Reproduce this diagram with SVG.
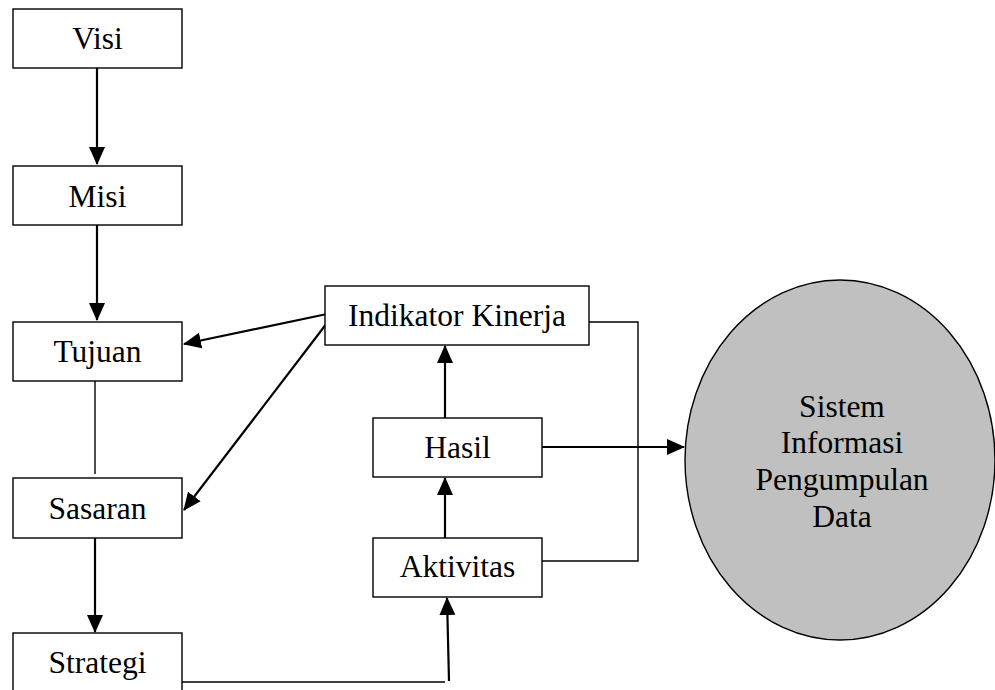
<svg xmlns="http://www.w3.org/2000/svg" width="995" height="690" viewBox="0 0 995 690">
  <style>
    .box { fill: #ffffff; stroke: #000000; stroke-width: 1.4; }
    .lbl { font-family: "Liberation Serif", "Times New Roman", serif; font-size: 31.5px; fill: #000000; text-anchor: middle; }
    .arrow { fill: none; stroke: #000000; stroke-width: 2.2; marker-end: url(#head); }
    .thin { fill: none; stroke: #000000; stroke-width: 1.4; }
  </style>
  <defs>
    <marker id="head" markerUnits="userSpaceOnUse" markerWidth="18" markerHeight="18" viewBox="0 0 18 16" refX="17" refY="8" orient="auto">
      <path d="M0,0 L18,8 L0,16 Z" fill="#000000"/>
    </marker>
  </defs>

  <rect width="995" height="690" fill="#ffffff"/>

  <!-- connectors -->
  <g id="connectors">
    <line class="arrow" x1="97" y1="68" x2="97" y2="164"/>
    <line class="arrow" x1="97" y1="225" x2="97" y2="320"/>
    <line class="thin" x1="95" y1="381" x2="95" y2="474"/>
    <line class="arrow" x1="95" y1="538" x2="95" y2="632"/>
    <line class="arrow" x1="327" y1="314" x2="184" y2="344"/>
    <line class="arrow" x1="327" y1="323" x2="184" y2="510"/>
    <line class="arrow" x1="445" y1="418" x2="445" y2="346"/>
    <line class="arrow" x1="445" y1="538" x2="445" y2="478"/>
    <line class="arrow" x1="542" y1="447" x2="684" y2="447"/>
    <polyline class="thin" points="589,322 638,322 638,561 542,561"/>
    <polyline class="thin" points="182,682 445,682"/>
    <line class="arrow" x1="449" y1="681" x2="447" y2="598"/>
  </g>

  <g id="visi">
    <rect class="box" x="13" y="9" width="169" height="59"/>
    <text class="lbl" x="97.5" y="49">Visi</text>
  </g>
  <g id="misi">
    <rect class="box" x="13" y="166" width="169" height="59"/>
    <text class="lbl" x="97.5" y="207">Misi</text>
  </g>
  <g id="tujuan">
    <rect class="box" x="13" y="322" width="169" height="59"/>
    <text class="lbl" x="97.5" y="362">Tujuan</text>
  </g>
  <g id="sasaran">
    <rect class="box" x="13" y="478" width="169" height="60"/>
    <text class="lbl" x="97.5" y="519">Sasaran</text>
  </g>
  <g id="strategi">
    <rect class="box" x="13" y="633" width="169" height="70"/>
    <text class="lbl" x="97.5" y="673">Strategi</text>
  </g>
  <g id="indikator-kinerja">
    <rect class="box" x="325" y="286" width="264" height="59"/>
    <text class="lbl" x="457" y="326">Indikator Kinerja</text>
  </g>
  <g id="hasil">
    <rect class="box" x="373" y="418" width="169" height="59"/>
    <text class="lbl" x="457.5" y="458">Hasil</text>
  </g>
  <g id="aktivitas">
    <rect class="box" x="373" y="538" width="169" height="59"/>
    <text class="lbl" x="457.5" y="577">Aktivitas</text>
  </g>
  <g id="sistem-informasi">
    <ellipse cx="840" cy="460" rx="155" ry="180" fill="#c0c0c0" stroke="#000000" stroke-width="1.4"/>
    <text class="lbl" x="842" y="417">Sistem</text>
    <text class="lbl" x="842" y="453">Informasi</text>
    <text class="lbl" x="842" y="490">Pengumpulan</text>
    <text class="lbl" x="842" y="527">Data</text>
  </g>
</svg>
